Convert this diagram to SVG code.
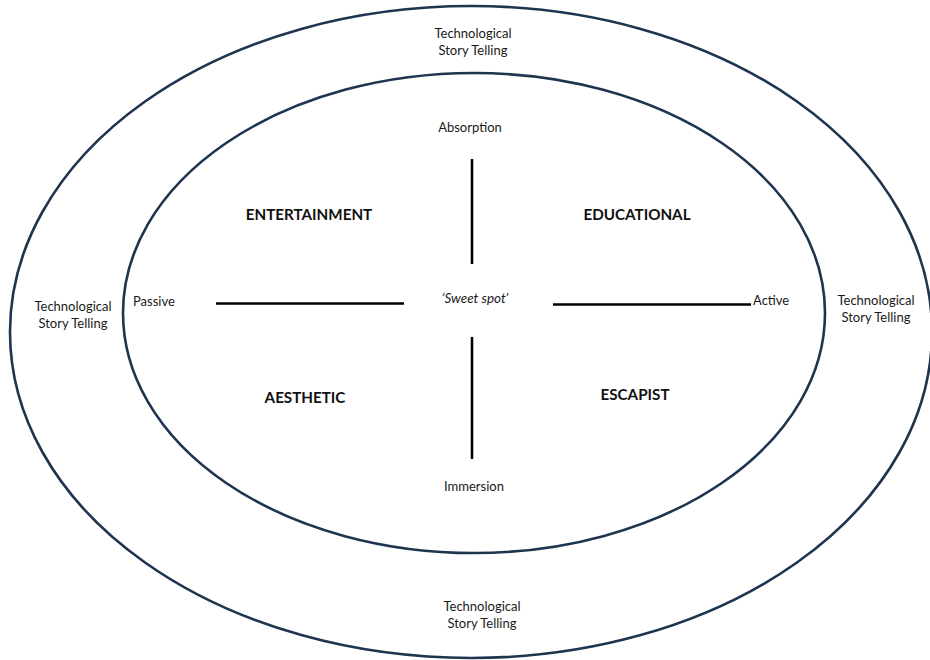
<svg xmlns="http://www.w3.org/2000/svg" width="930" height="660" viewBox="0 0 930 660">
  <style>
    .ring { fill: none; stroke: #1e344f; stroke-width: 2.6; }
    .axis { stroke: #000; stroke-width: 2.6; fill: none; }
    .lbl { font-family: Lato, "Liberation Sans", sans-serif; font-size: 13px; fill: #1a1a1a; }
    .mid { text-anchor: middle; }
    .quad { font-family: Lato, "Liberation Sans", sans-serif; font-size: 15.2px; font-weight: bold; fill: #111; text-anchor: middle; }
    .ital { font-style: italic; font-size: 13.5px; }
  </style>
  <rect width="930" height="660" fill="#fff"/>

  <!-- outer ring: technological story telling -->
  <g id="outer-ring">
    <ellipse class="ring" cx="471" cy="332" rx="461" ry="326"/>
    <text class="lbl mid" x="473" y="38">Technological</text>
    <text class="lbl mid" x="473" y="55">Story Telling</text>
    <text class="lbl mid" x="482" y="611">Technological</text>
    <text class="lbl mid" x="482" y="628">Story Telling</text>
    <text class="lbl mid" x="73" y="311">Technological</text>
    <text class="lbl mid" x="73" y="328">Story Telling</text>
    <text class="lbl mid" x="876" y="305">Technological</text>
    <text class="lbl mid" x="876" y="322">Story Telling</text>
  </g>

  <!-- inner ring: experience realms -->
  <g id="inner-ring">
    <ellipse class="ring" cx="474" cy="313" rx="351" ry="240"/>
  </g>

  <!-- axes -->
  <g id="connectors">
    <line class="axis" x1="472" y1="159" x2="472" y2="264"/>
    <line class="axis" x1="472" y1="337" x2="472" y2="459"/>
    <line class="axis" x1="216" y1="303.5" x2="404" y2="303.5"/>
    <line class="axis" x1="553" y1="304.5" x2="751" y2="304.5"/>
  </g>

  <g id="absorption"><text class="lbl mid" x="470" y="132">Absorption</text></g>
  <g id="immersion"><text class="lbl mid" x="474" y="491">Immersion</text></g>
  <g id="passive"><text class="lbl" x="133" y="306">Passive</text></g>
  <g id="active"><text class="lbl" x="753" y="305">Active</text></g>
  <g id="sweet-spot"><text class="lbl mid ital" x="475" y="303">‘Sweet spot’</text></g>

  <g id="entertainment"><text class="quad" x="309" y="220">ENTERTAINMENT</text></g>
  <g id="educational"><text class="quad" x="637" y="220">EDUCATIONAL</text></g>
  <g id="aesthetic"><text class="quad" x="305" y="403">AESTHETIC</text></g>
  <g id="escapist"><text class="quad" x="635" y="400">ESCAPIST</text></g>
</svg>
